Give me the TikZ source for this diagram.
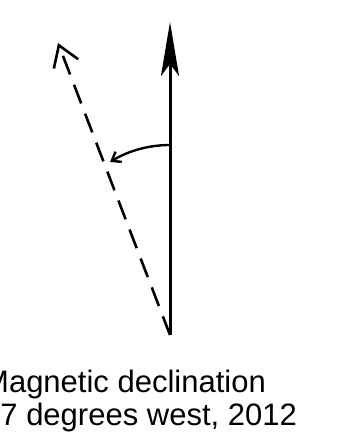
\documentclass[tikz,border=0pt]{standalone}
\usepackage{fontspec}
\setmainfont{Liberation Sans}
\usepackage{tikz}
\usetikzlibrary{arrows.meta, positioning, calc}

\begin{document}
\begin{tikzpicture}[
  x = 1pt, y = 1pt,
  northarrow/.style = {line width=3pt, -{Stealth[length=54pt, width=18pt, inset=12pt]}},
  magnarrow/.style  = {line width=2.6pt, dash pattern=on 20pt off 11pt,
                       -{Straight Barb[length=20pt, width=26pt]}},
  declarc/.style    = {line width=2.4pt, -{Straight Barb[length=8pt, width=12pt]}},
  decltext/.style   = {align=left, inner sep=0pt,
                       font=\fontsize{31}{33}\selectfont}
]
  \useasboundingbox (0,0) rectangle (341,443);
  \coordinate (base)  at (170,108);
  \coordinate (north) at (170,421);
  \coordinate (magn)  at (58,400);
  \coordinate (arcstart) at (170,298);

  \draw[northarrow] (base) -- (north);
  \draw[magnarrow]  (base) -- (magn);
  \draw[declarc] (arcstart) arc[start angle=90, end angle=121.7, radius=114];

  \node[decltext, anchor=base west] (decl) at (-17,17)
    {Magnetic declination\\17 degrees west, 2012};
\end{tikzpicture}
\end{document}
